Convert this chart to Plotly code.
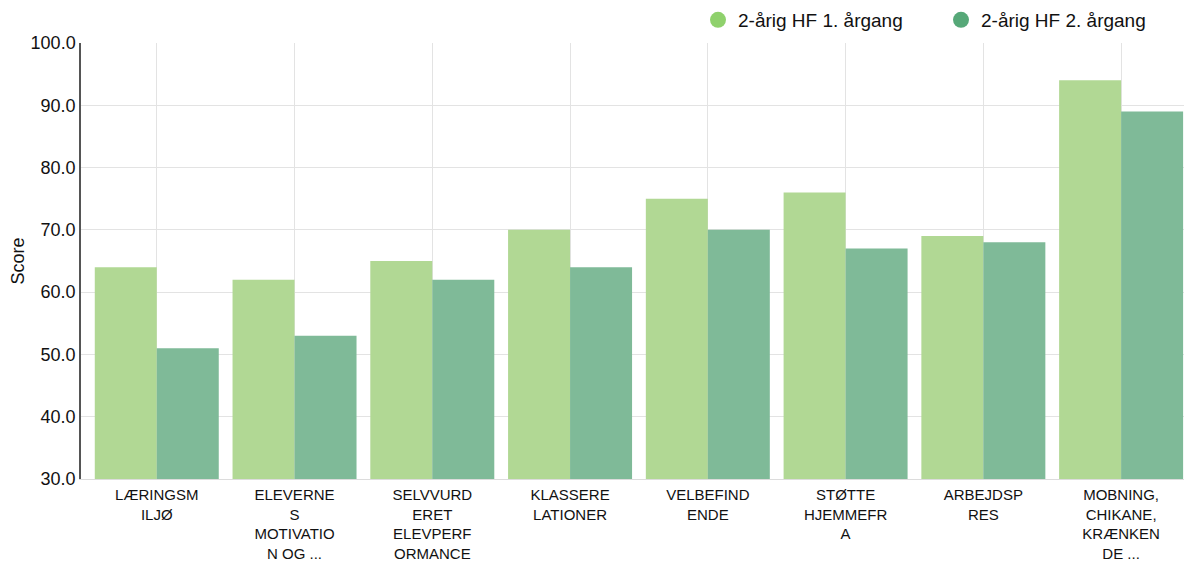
import plotly.graph_objects as go

categories = [
    "LÆRINGSM<br>ILJØ",
    "ELEVERNE<br>S<br>MOTIVATIO<br>N OG ...",
    "SELVVURD<br>ERET<br>ELEVPERF<br>ORMANCE",
    "KLASSERE<br>LATIONER",
    "VELBEFIND<br>ENDE",
    "STØTTE<br>HJEMMEFR<br>A",
    "ARBEJDSP<br>RES",
    "MOBNING,<br>CHIKANE,<br>KRÆNKEN<br>DE ...",
]
series_names = ["2-årig HF 1. årgang", "2-årig HF 2. årgang"]
first_year = [64, 62, 65, 70, 75, 76, 69, 94]
second_year = [51, 53, 62, 64, 70, 67, 68, 89]
y_ticks = [30, 40, 50, 60, 70, 80, 90, 100]

bar_colors = ["#b1d894", "#7fba98"]
legend_colors = ["#8fd16c", "#56a878"]

fig = go.Figure()
for name, vals, bc in zip(series_names, [first_year, second_year], bar_colors):
    fig.add_trace(go.Bar(
        x=list(range(len(categories))), y=vals, name=name,
        marker=dict(color=bc, line=dict(width=0)),
        showlegend=False,
    ))

# legend entries with round markers
for name, lc in zip(series_names, legend_colors):
    fig.add_trace(go.Scatter(
        x=[None], y=[None], mode="markers", name=name,
        marker=dict(symbol="circle", size=22, color=lc),
    ))

# page sits 8px in from the window edge, so the figure is sized to fit
W, H = 1184, 555
fig.update_layout(
    width=W, height=H,
    barmode="group", bargap=0.1, bargroupgap=0,
    plot_bgcolor="white", paper_bgcolor="white",
    font=dict(family="Liberation Sans, Arial, sans-serif", size=15, color="#111"),
    margin=dict(l=73, r=2, t=35, b=84, autoexpand=False),
    legend=dict(orientation="h", xref="container", yref="container",
                x=1176 / W, xanchor="right", y=1 - 12 / H, yanchor="middle",
                font=dict(size=19), entrywidth=198, traceorder="normal"),
    xaxis=dict(
        tickmode="array", tickvals=list(range(len(categories))), ticktext=categories,
        range=[-0.55, 7.5], showgrid=True, gridcolor="#e3e3e3",
        showline=True, linecolor="#dcdcdc", zeroline=False, ticks="",
        tickfont=dict(size=15), automargin=False, ticklabelstandoff=2,
    ),
    yaxis=dict(
        range=[30, 100], tickvals=y_ticks, tickformat=".1f",
        showgrid=True, gridcolor="#e3e3e3", zeroline=False,
        showline=True, linecolor="#555", linewidth=1.5,
        ticks="", tickfont=dict(size=18), automargin=False,
        title=dict(text="Score", font=dict(size=18)),
    ),
)

fig.write_html("out.html")
